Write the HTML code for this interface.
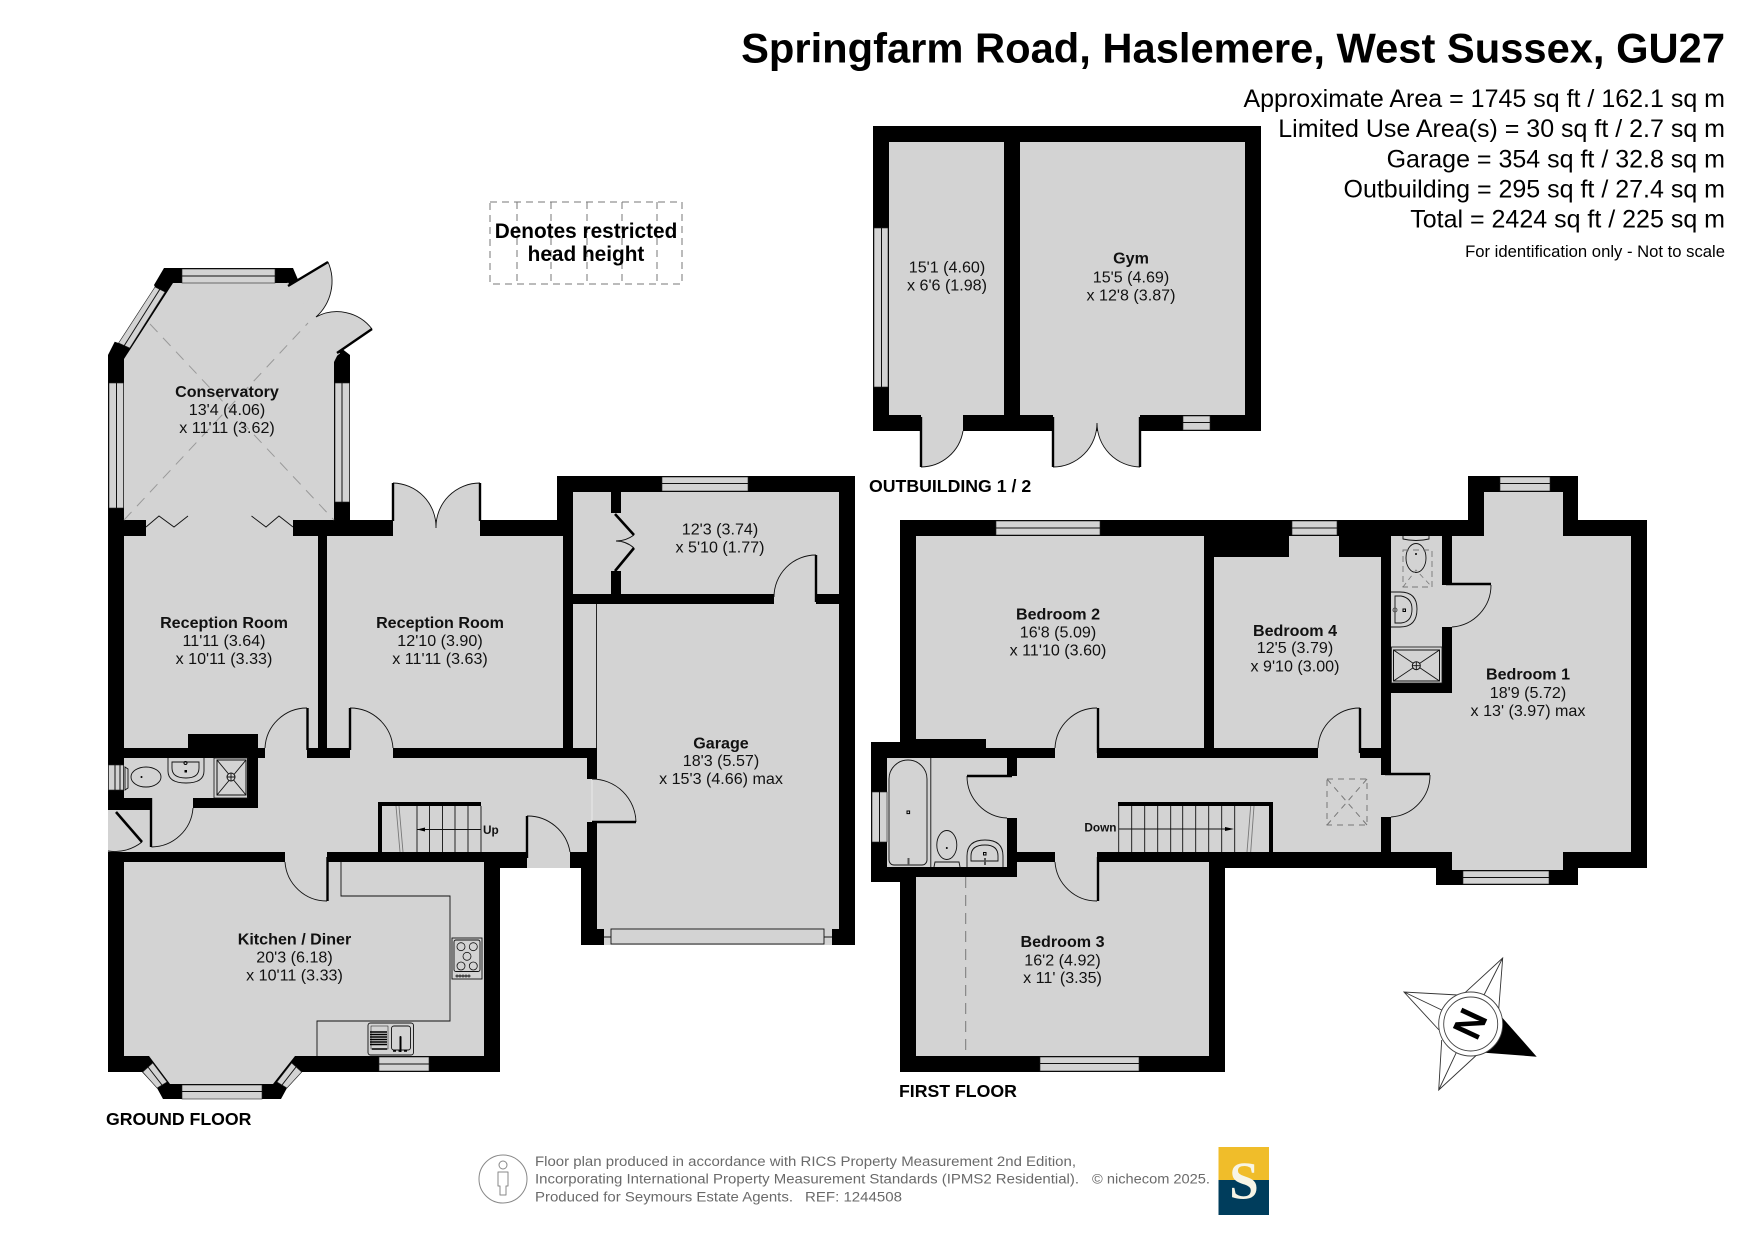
<!DOCTYPE html>
<html><head><meta charset="utf-8"><style>
html,body{margin:0;padding:0;background:#fff}
svg{display:block}
text{font-family:"Liberation Sans",Arial,sans-serif;fill:#111}
.r{font-size:16.1px;text-anchor:middle}
.b{font-size:16.1px;text-anchor:middle;font-weight:bold}
.a{font-size:25px;text-anchor:end;fill:#000}
.h{font-size:17.7px;font-weight:bold;fill:#000}
.f{font-size:14.2px;fill:#6a6a6a}
.g{fill:#d3d3d3}
.w{fill:#d3d3d3;stroke:#222;stroke-width:.6}
.m{stroke:#111;stroke-width:1;fill:none}
.t{stroke:#111;stroke-width:.9;fill:none}
.l{stroke:#000;stroke-width:2.4;fill:none}
.d{stroke:#777;stroke-width:1;fill:none;stroke-dasharray:6 5}
</style></head><body>
<svg width="1755" height="1241" viewBox="0 0 1755 1241" xmlns="http://www.w3.org/2000/svg">
<rect width="1755" height="1241" fill="#fff"/>

<!-- headings -->
<text x="1725" y="62.5" text-anchor="end" style="font-size:41.7px;font-weight:bold;fill:#000">Springfarm Road, Haslemere, West Sussex, GU27</text>
<text class="a" x="1725" y="107">Approximate Area = 1745 sq ft / 162.1 sq m</text>
<text class="a" x="1725" y="137">Limited Use Area(s) = 30 sq ft / 2.7 sq m</text>
<text class="a" x="1725" y="167.5">Garage = 354 sq ft / 32.8 sq m</text>
<text class="a" x="1725" y="197.5">Outbuilding = 295 sq ft / 27.4 sq m</text>
<text class="a" x="1725" y="227.5">Total = 2424 sq ft / 225 sq m</text>
<text x="1725" y="257" text-anchor="end" style="font-size:16.65px;fill:#000">For identification only - Not to scale</text>

<!-- restricted height key -->
<g fill="none" stroke="#777" stroke-width="1" stroke-dasharray="7 5">
<rect x="490" y="202" width="192" height="82"/>
<path d="M517,202V284M551,202V284M587,202V284M622,202V284M657,202V284"/>
</g>
<text x="586" y="238" text-anchor="middle" style="font-size:20.8px;font-weight:bold;fill:#000">Denotes restricted</text>
<text x="586" y="261" text-anchor="middle" style="font-size:20.8px;font-weight:bold;fill:#000">head height</text>

<!-- ================= GROUND FLOOR ================= -->
<polygon fill="#000" points="108,355 114.7,341.7 118.6,343 155,287 154,285 164,268 293,268 299,282 288,287 334,357 341,348 350,355 350,520 557,520 557,476 855,476 855,945 581,945 581,868 500,868 500,1072 302,1072 287,1088 281,1099 163,1099 157,1088 142,1072 108,1072"/>

<!-- conservatory -->
<path class="g" d="M288,287L328,262A48,48 0 0 1 316,317A44,44 0 0 1 372,329L336,353Z" stroke="#d3d3d3" stroke-width="1"/>
<polygon class="g" points="124,359 173,283 287,283 292,287 338,354 334,362 334,520 124,520"/>
<path d="M286,284L338,355" stroke="#d3d3d3" stroke-width="5" fill="none"/>
<path class="t" d="M328,262A48,48 0 0 1 316,317A44,44 0 0 1 372,329"/>
<path class="l" d="M288,286L328,262M372,329L337,353"/>
<rect class="g" x="146" y="520" width="147" height="16"/>
<path d="M124,520L308,323M150,324L334,520" stroke="#999" stroke-width="1" fill="none" stroke-dasharray="11 8"/>
<path class="t" d="M146,527L159,516L174,527L188,516M251.5,516L266,527L279,516L293,527"/>
<rect class="w" x="182" y="269" width="93" height="14"/><path class="m" d="M182,276H275"/>
<polygon class="w" points="118.6,343 129.7,348 165,292 155,287"/><path class="m" d="M124,346L160,289"/>
<rect class="w" x="109" y="383" width="14.5" height="125"/><path class="m" d="M116.5,383V508"/>
<rect class="w" x="335" y="383" width="14.5" height="119"/><path class="m" d="M342,383V502"/>

<!-- reception rooms -->
<polygon class="g" points="124,536 318,536 318,748 258,748 258,734 188,734 188,748 124,748"/>
<rect class="g" x="327" y="536" width="236" height="212"/>
<path class="g" d="M393,536V483A44,44 0 0 1 436,528A44,44 0 0 1 480,483V536Z"/>
<path class="t" d="M393,483A44,44 0 0 1 436,528A44,44 0 0 1 480,483"/>
<path class="l" d="M393,483V521M480,483V521"/>

<!-- store & garage -->
<rect class="g" x="573" y="492" width="266" height="102"/>
<rect x="611" y="492" width="10" height="21" fill="#000"/>
<rect x="611" y="571" width="10" height="23" fill="#000"/>
<path d="M615,514L634,535M634,548L615,571" stroke="#000" stroke-width="2.6" fill="none"/>
<path class="t" stroke-width=".7" d="M616,541Q626,541 634,535M616,541Q626,541 634,548"/>
<rect class="w" x="662" y="477" width="86" height="14"/><path class="m" d="M662,483.5H748"/>
<rect class="g" x="573" y="604" width="24" height="144"/>
<path class="t" d="M596.5,604V748"/>
<rect class="g" x="597" y="604" width="242" height="325"/>
<rect class="g" x="774" y="594" width="42" height="10"/>
<path class="t" d="M816,555A42,42 0 0 0 774,597"/>
<path class="l" d="M816,555V602"/>
<rect class="g" x="604" y="929" width="228" height="16"/>
<rect x="611" y="929" width="213" height="15" fill="#d3d3d3" stroke="#111" stroke-width=".9"/>
<path class="t" d="M604,937H611M824,937H832"/>

<!-- kitchen -->
<polygon class="g" points="124,862 484,862 484,1056 295,1056 273,1084 170,1084 149,1056 124,1056"/>
<path class="t" d="M341,862V896H450V1021H317V1056"/>
<rect x="452" y="938" width="30" height="41" fill="none" stroke="#111" stroke-width=".9"/>
<rect x="454" y="940" width="26" height="31.5" rx="2" fill="none" stroke="#111" stroke-width=".9"/>
<g fill="none" stroke="#111" stroke-width=".8">
<circle cx="461" cy="946.7" r="4"/><circle cx="473.3" cy="946.7" r="4"/><circle cx="467" cy="956.3" r="4"/><circle cx="461" cy="966" r="4"/><circle cx="473.3" cy="966" r="4"/>
<circle cx="457" cy="976" r="1"/><circle cx="460" cy="976" r="1"/><circle cx="463" cy="976" r="1"/><circle cx="466" cy="976" r="1"/><circle cx="469" cy="976" r="1"/>
</g>
<rect x="368" y="1023" width="45.5" height="32" rx="2.5" fill="none" stroke="#111" stroke-width=".9"/>
<rect x="371" y="1026" width="17" height="23" fill="none" stroke="#111" stroke-width=".5"/>
<path d="M370,1032H387M370,1034.5H387M370,1037H387M370,1039.5H387M370,1042H387M370,1044.5H387M372,1049H387" stroke="#000" stroke-width="1.4"/>
<rect x="391.5" y="1026" width="19" height="24" rx="2.5" fill="none" stroke="#111" stroke-width=".9"/>
<path d="M400.5,1037V1052" stroke="#000" stroke-width="2"/><circle cx="400.5" cy="1037" r="1" fill="#000"/>
<path d="M393,1051H409" stroke="#000" stroke-width="1.6" stroke-dasharray="3 2.5"/>
<rect class="w" x="379" y="1057" width="50" height="14"/><path class="m" d="M379,1064H429"/>
<rect class="w" x="182" y="1085" width="80" height="14"/><path class="m" d="M182,1091.5H262"/>
<polygon class="w" points="142.7,1072 152.7,1063 167,1082 157,1088"/><path class="m" d="M148,1067L162,1085"/>
<polygon class="w" points="301.7,1072 291.7,1063 277,1082 287,1088"/><path class="m" d="M296,1067L282,1085"/>

<!-- hall -->
<rect class="g" x="124" y="758" width="123" height="40"/>
<polygon class="g" points="258,758 587,758 587,852 108,852 108,810 150,810 150,798 193,798 193,808 258,808"/>
<rect class="g" x="265" y="748" width="42" height="10"/>
<rect class="g" x="350" y="748" width="43" height="10"/>
<rect class="g" x="285" y="852" width="42" height="10"/>
<rect class="g" x="527" y="852" width="43" height="16"/>
<rect class="g" x="587" y="779" width="10" height="43"/>
<path d="M592,779V822" stroke="#eee" stroke-width=".8"/>

<!-- ground doors -->
<path class="t" d="M307,708A42,42 0 0 0 265,748"/><path class="l" d="M307.5,708V750"/>
<path class="t" d="M350,708A43,43 0 0 1 393,748"/><path class="l" d="M350,708V750"/>
<path class="t" d="M151.5,847A42,42 0 0 0 193,808"/><path class="l" d="M151,798V847"/>
<path class="t" d="M142,842A44,44 0 0 1 108,851"/><path d="M116,812L142,842" stroke="#000" stroke-width="2.6"/>
<path class="t" d="M527,816A43,43 0 0 1 570,852"/><path class="l" d="M527,816V858"/>
<path class="t" d="M592,779A44,44 0 0 1 636,822"/><path class="l" d="M592,822H636"/>
<path class="t" d="M285,862A42,42 0 0 0 327,901"/><path class="l" d="M327.5,857V901"/>

<!-- WC -->
<rect class="w" x="108.5" y="765" width="15" height="25"/><path class="m" d="M115,765V790M120,765V790"/>
<path class="t" d="M125,767L128,769V788L125,790Z"/>
<ellipse class="t" cx="146" cy="777" rx="15" ry="10"/>
<circle cx="141.5" cy="777" r="1" fill="#000"/>
<path class="t" d="M168,758V771Q168,783 186,783Q204,783 204,771V758"/>
<path class="t" d="M172,762H199V768Q199,778 186,778Q172,778 172,768Z"/>
<circle cx="185.5" cy="763" r="1.5" fill="none" stroke="#000"/><rect x="184.5" y="770" width="2.5" height="2.5" fill="#000"/>
<rect x="214" y="758" width="34" height="40" fill="none" stroke="#111" stroke-width=".8"/>
<rect x="217" y="760" width="29" height="35" fill="none" stroke="#111" stroke-width="1"/>
<path class="t" d="M217,760L246,795M246,760L217,795"/>
<circle cx="231" cy="777" r="4" fill="#d3d3d3" stroke="#111"/><path class="t" d="M227,777H235M231,773V781"/>

<!-- stairs up -->
<path d="M378,852V802H481V806H382V852Z" fill="#000"/>
<path class="t" d="M417,806V852M429.5,806V852M442.5,806V852M455,806V852M468,806V852M481,806V852M417,829.5H481"/>
<path d="M396,806L400,852M399,806L403,852" stroke="#777" stroke-width=".9" fill="none"/>
<polygon points="417,829.5 425,827.5 425,831.5" fill="#000"/>
<text x="483" y="834" style="font-size:11.8px;font-weight:bold">Up</text>

<!-- ground labels -->
<text class="b" x="227" y="397">Conservatory</text>
<text class="r" x="227" y="415">13'4 (4.06)</text>
<text class="r" x="227" y="433">x 11'11 (3.62)</text>
<text class="b" x="224" y="628">Reception Room</text>
<text class="r" x="224" y="646">11'11 (3.64)</text>
<text class="r" x="224" y="664">x 10'11 (3.33)</text>
<text class="b" x="440" y="628">Reception Room</text>
<text class="r" x="440" y="646">12'10 (3.90)</text>
<text class="r" x="440" y="664">x 11'11 (3.63)</text>
<text class="r" x="720" y="534.5">12'3 (3.74)</text>
<text class="r" x="720" y="552.5">x 5'10 (1.77)</text>
<text class="b" x="721" y="748.5">Garage</text>
<text class="r" x="721" y="766">18'3 (5.57)</text>
<text class="r" x="721" y="784">x 15'3 (4.66) max</text>
<text class="b" x="294.5" y="944.5">Kitchen / Diner</text>
<text class="r" x="294.5" y="962.5">20'3 (6.18)</text>
<text class="r" x="294.5" y="980.5">x 10'11 (3.33)</text>
<text class="h" x="106" y="1125">GROUND FLOOR</text>

<!-- ================= OUTBUILDINGS ================= -->
<rect x="873" y="126" width="388" height="305" fill="#000"/>
<rect class="g" x="889" y="142" width="115" height="273"/>
<rect class="g" x="1020" y="142" width="225" height="273"/>
<rect class="w" x="874" y="228" width="14" height="159"/><path class="m" d="M881.5,228V387"/>
<rect class="w" x="1183" y="416" width="27" height="14"/><path class="m" d="M1183,422.5H1210"/>
<path class="g" d="M921,415V467A43,43 0 0 0 963,431V415Z"/>
<path class="t" d="M921,467A43,43 0 0 0 963,431"/>
<path class="l" d="M921,417V467"/>
<path class="g" d="M1053,415V467A44,44 0 0 0 1097,423A44,44 0 0 0 1140,467V415Z"/>
<path class="t" d="M1053,467A44,44 0 0 0 1097,423A44,44 0 0 0 1140,467"/>
<path class="l" d="M1053,417V467M1140,417V467"/>
<text class="r" x="947" y="272.5">15'1 (4.60)</text>
<text class="r" x="947" y="290.5">x 6'6 (1.98)</text>
<text class="b" x="1131" y="263.5">Gym</text>
<text class="r" x="1131" y="282.5">15'5 (4.69)</text>
<text class="r" x="1131" y="300.5">x 12'8 (3.87)</text>
<text class="h" x="869" y="492">OUTBUILDING 1 / 2</text>

<!-- ================= FIRST FLOOR ================= -->
<polygon fill="#000" points="900,520 1468,520 1468,476 1578,476 1578,520 1647,520 1647,868 1578,868 1578,885 1436,885 1436,868 1225,868 1225,1072 900,1072 900,882 871,882 871,742 900,742"/>
<polygon class="g" points="916,536 1204,536 1204,748 986,748 986,739 916,739"/>
<polygon class="g" points="1214,557 1289,557 1289,536 1339,536 1339,557 1381,557 1381,748 1214,748"/>
<rect class="g" x="1391" y="536" width="51" height="147"/>
<polygon class="g" points="1452,536 1484,536 1484,492 1563,492 1563,536 1631,536 1631,852 1563,852 1563,870 1452,870 1452,852 1391,852 1391,693 1452,693"/>
<rect class="g" x="1017" y="758" width="364" height="94"/>
<rect class="g" x="887" y="758" width="120" height="109"/>
<polygon class="g" points="916,877 1017,877 1017,862 1209,862 1209,1056 916,1056"/>
<rect class="g" x="1055" y="748" width="42" height="10"/>
<rect class="g" x="1318" y="748" width="42" height="10"/>
<rect class="g" x="1055" y="852" width="42" height="10"/>
<rect class="g" x="1381" y="775" width="10" height="42"/>
<rect class="g" x="1007" y="776" width="10" height="42"/>
<rect class="g" x="1442" y="585" width="10" height="42"/>

<!-- first floor windows -->
<rect class="w" x="996" y="521" width="104" height="14"/><path class="m" d="M996,528H1100"/>
<rect class="w" x="1292" y="521" width="45" height="14"/><path class="m" d="M1292,528H1337"/>
<rect class="w" x="1500" y="477" width="50" height="14"/><path class="m" d="M1500,483.5H1550"/>
<rect class="w" x="1463" y="871" width="86" height="13"/><path class="m" d="M1463,877.5H1549"/>
<rect class="w" x="1040" y="1057" width="99" height="14"/><path class="m" d="M1040,1063.5H1139"/>
<rect class="w" x="872" y="792" width="15" height="50"/><path class="m" d="M879.5,792V842"/>

<!-- first floor doors -->
<path class="t" d="M1097,708A42,42 0 0 0 1055,748"/><path class="l" d="M1098,708V753"/>
<path class="t" d="M1360,708A42,42 0 0 0 1318,748"/><path class="l" d="M1360,708V753"/>
<path class="t" d="M1055,862A42,42 0 0 0 1097,901"/><path class="l" d="M1098,857V901"/>
<path class="t" d="M967,776A42,42 0 0 0 1007,818"/><path class="l" d="M967,776H1012"/>
<path class="t" d="M1430,775A42,42 0 0 1 1391,817"/><path class="l" d="M1385,774H1430"/>
<path class="t" d="M1491,585A42,42 0 0 1 1452,627"/><path class="l" d="M1446,584H1491"/>

<!-- stairs down -->
<path d="M1118,806V802H1273V852H1269V806Z" fill="#000"/>
<path class="t" d="M1118.7,806V852M1131.7,806V852M1144.7,806V852M1157.7,806V852M1170.7,806V852M1182.7,806V852M1195.7,806V852M1208.7,806V852M1221.7,806V852M1234.7,806V852M1119,829H1226"/>
<path d="M1250.7,806L1247,852M1254,806L1250.7,852" stroke="#777" stroke-width=".9" fill="none"/>
<polygon points="1234,829 1225,827 1225,831" fill="#000"/>
<text x="1116.5" y="831.5" text-anchor="end" style="font-size:11.8px;font-weight:bold">Down</text>

<!-- skylight -->
<rect class="d" x="1327" y="779" width="40" height="46"/>
<path class="d" d="M1327,779L1367,825M1367,779L1327,825" stroke-dasharray="7 7"/>

<!-- bathroom -->
<path class="t" d="M930.8,758V867"/>
<path class="t" d="M889,779A19,19 0 0 1 927,779V860A5,5 0 0 1 922,865H894A5,5 0 0 1 889,860Z"/>
<rect x="907" y="811" width="2.6" height="2.6" fill="none" stroke="#000"/>
<path d="M908.5,858V865" stroke="#555" stroke-width="2"/>
<ellipse class="t" cx="946.8" cy="845" rx="10" ry="14.5"/>
<circle cx="946.8" cy="848" r="1" fill="#000"/>
<path class="t" d="M934,867L935,862H959L960,867"/>
<path class="t" d="M967,867V856Q967,840 985,840Q1003,840 1003,856V867"/>
<path class="t" d="M971,861V856Q971,845 985,845Q998,845 998,856V861Z"/>
<rect x="983.5" y="852.5" width="2.5" height="2.5" fill="none" stroke="#000"/>
<path d="M985,858V865" stroke="#555" stroke-width="2"/>

<!-- en-suite -->
<path class="t" d="M1403,536V539Q1416,542 1429,539V536"/>
<ellipse class="t" cx="1416" cy="558" rx="10" ry="14.5" stroke-width="1.1"/>
<circle cx="1416" cy="554" r="1" fill="#000"/>
<path d="M1403,550H1432V587H1403Z" stroke="#777" stroke-width=".9" fill="none" stroke-dasharray="6 4"/>
<path d="M1403,587L1416,570L1432,587" stroke="#777" stroke-width=".8" fill="none" stroke-dasharray="5 4"/>
<path class="t" d="M1391,592H1400Q1417,592 1417,609Q1417,627 1400,627H1391"/>
<path class="t" d="M1395,596H1401Q1412,598 1412,609Q1412,622 1401,623H1395Z"/>
<rect x="1403" y="609" width="2.5" height="2.5" fill="none" stroke="#000"/>
<circle cx="1395" cy="610" r="2" fill="none" stroke="#555"/>
<rect x="1391.5" y="647" width="50.5" height="36" fill="none" stroke="#111" stroke-width=".8"/>
<rect x="1393.5" y="650" width="46" height="31" fill="none" stroke="#111"/>
<path class="t" d="M1393.5,650L1439.5,681M1439.5,650L1393.5,681"/>
<circle cx="1416.3" cy="665.7" r="4" fill="#d3d3d3" stroke="#111"/><path class="t" d="M1412.3,665.7H1420.3M1416.3,661.7V669.7"/>

<!-- restricted line bedroom 3 -->
<path d="M965.7,877V1056" stroke="#777" stroke-width="1" stroke-dasharray="11 7"/>

<!-- first labels -->
<text class="b" x="1058" y="619.5">Bedroom 2</text>
<text class="r" x="1058" y="637.5">16'8 (5.09)</text>
<text class="r" x="1058" y="655.5">x 11'10 (3.60)</text>
<text class="b" x="1295" y="636">Bedroom 4</text>
<text class="r" x="1295" y="653">12'5 (3.79)</text>
<text class="r" x="1295" y="671.5">x 9'10 (3.00)</text>
<text class="b" x="1528" y="679.5">Bedroom 1</text>
<text class="r" x="1528" y="698">18'9 (5.72)</text>
<text class="r" x="1528" y="716">x 13' (3.97) max</text>
<text class="b" x="1062.5" y="947">Bedroom 3</text>
<text class="r" x="1062.5" y="965.5">16'2 (4.92)</text>
<text class="r" x="1062.5" y="983">x 11' (3.35)</text>
<text class="h" x="899" y="1097">FIRST FLOOR</text>

<!-- compass -->
<g fill="#fff" stroke="#333" stroke-width=".9">
<path d="M1465,992.7L1502.7,958L1498,1018M1484,995L1502.7,958"/>
<path d="M1458,995L1404,992L1439,1030M1441.7,1010L1404,992"/>
<path d="M1441.7,1040L1438.7,1090L1476.7,1055M1456.7,1051.7L1438.7,1090"/>
</g>
<polygon points="1501.7,1017 1536.7,1056.7 1485,1052.7" fill="#000"/>
<circle cx="1470.7" cy="1024" r="32" fill="#fff" stroke="#444" stroke-width=".9"/>
<circle cx="1470.7" cy="1024" r="27" fill="#fff" stroke="#444" stroke-width=".9"/>
<text transform="translate(1470.7,1024) rotate(115) scale(.95,1)" x="0" y="14.5" text-anchor="middle" style="font-size:40px;font-weight:bold;fill:#000">N</text>

<!-- footer -->
<circle cx="503" cy="1179" r="24" fill="none" stroke="#888" stroke-width="1"/>
<circle cx="503" cy="1165" r="4" fill="none" stroke="#888"/>
<path d="M498,1172H508V1186H506V1195H500V1186H498Z" fill="none" stroke="#888" stroke-linejoin="round"/>
<text class="f" x="535" y="1166" textLength="541" lengthAdjust="spacingAndGlyphs">Floor plan produced in accordance with RICS Property Measurement 2nd Edition,</text>
<text class="f" x="535" y="1183.5" textLength="544" lengthAdjust="spacingAndGlyphs">Incorporating International Property Measurement Standards (IPMS2 Residential).</text>
<text class="f" x="1092" y="1183.5" textLength="118" lengthAdjust="spacingAndGlyphs">© nichecom 2025.</text>
<text class="f" x="535" y="1201.5" textLength="258" lengthAdjust="spacingAndGlyphs">Produced for Seymours Estate Agents.</text>
<text class="f" x="805" y="1201.5" textLength="97" lengthAdjust="spacingAndGlyphs">REF: 1244508</text>
<rect x="1218.5" y="1147" width="50.5" height="33" fill="#f0bd2a"/>
<rect x="1218.5" y="1180" width="50.5" height="35" fill="#003d5c"/>
<text x="1244" y="1198.5" text-anchor="middle" style="font-family:'Liberation Serif',serif;font-size:53px;font-weight:bold;fill:#f7f5e6">S</text>
</svg>
</body></html>
